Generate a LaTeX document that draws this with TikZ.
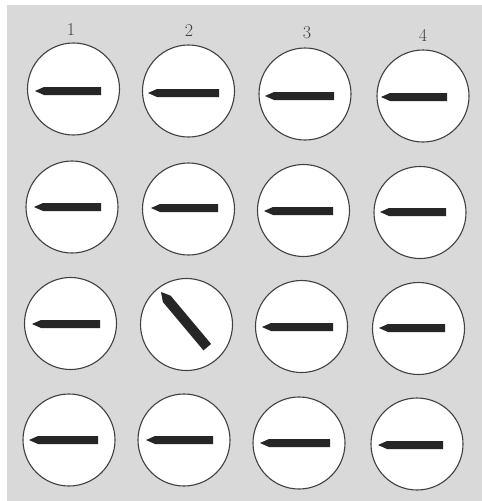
\documentclass[tikz,border=0pt]{standalone}
\begin{document}
\begin{tikzpicture}[x=1pt, y=-1pt,
    dial/.style={circle, draw=black!75, line width=1.1pt, fill=white, minimum size=92pt, inner sep=0pt},
    needle/.style={fill=black!85, draw=none},
    colnum/.style={font=\fontsize{18}{21}\selectfont, text=black!75}]
\useasboundingbox (0,0) rectangle (482,501);
\fill[gray!30] (7,5) rectangle (482,501);
    % column numbers
    \foreach \x/\y/\n in {71/30/1, 189/31/2, 307/33/3, 423/35/4} {
        \node[colnum] (num\n) at (\x,\y) {\n};
    }
    % dials: centre x / centre y / row / column
    \foreach \x/\y/\r/\c in {73.5/89/1/1, 188.5/91/1/2, 305/94/1/3, 423/96/1/4,
            72/207/2/1, 188.5/209/2/2, 303.5/210.5/2/3, 420/212.5/2/4,
            70.5/323.5/3/1, 186.5/324.5/3/2, 301.5/326.5/3/3, 418.5/328.5/3/4,
            69/440/4/1, 184/440/4/2, 299/443/4/3, 417/444/4/4} {
        \node[dial] (d\r\c) at (\x,\y) {};
    }
    % needles: tip x / tip y / length / half width / angle
    \foreach \x/\y/\l/\w/\a in {35/91/66/4/0, 148/93/71/4/0, 265/96/69/4/0, 381/97/66/4/0,
            34/207/67/4/0, 151/208/67/4/0, 264/211/69/4/0, 380/212/66/4/0,
            32/324/68/4/0, 161/292/72/5/-50, 262/327/71/4/0, 379/328/66/4/0,
            29/440/69/4/0, 146/440/67/4/0, 260/443/70/4/0, 378/445/65/4/0} {
        \fill[needle, shift={(\x,\y)}, rotate=\a]
            (0,0) -- (9,-\w) -- (\l,-\w) -- (\l,\w) -- (9,\w) -- cycle;
    }
\end{tikzpicture}
\end{document}
